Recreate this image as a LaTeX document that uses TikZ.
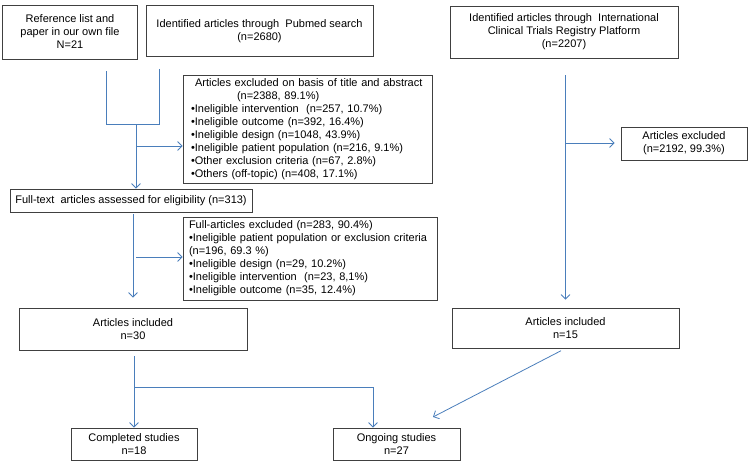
\documentclass[tikz,border=0pt]{standalone}
\usepackage{fontspec}
\setmainfont{Liberation Sans}
\usepackage{tikz}
\usetikzlibrary{arrows.meta,positioning,calc}
\hyphenpenalty=10000
\definecolor{FlowBlue}{RGB}{74,126,187}
\definecolor{FrameGray}{RGB}{64,64,64}
\tikzset{
  box/.style={draw=FrameGray, line width=0.8pt, align=center, inner sep=4pt, font=\fontsize{11}{13}\selectfont},
  listbox/.style={draw=FrameGray, line width=0.8pt, align=left, inner xsep=8pt, inner ysep=2pt, font=\fontsize{11}{13}\selectfont},
  arr/.style={-{Straight Barb[length=4.5pt,width=9pt]}, line width=0.8pt, draw=FlowBlue},
  ln/.style={line width=0.8pt, draw=FlowBlue}
}

\begin{document}
\begin{tikzpicture}[x=1pt,y=-1pt]
\useasboundingbox (0,0) rectangle (753,464);
% sources
\node[box, minimum width=135pt, minimum height=54pt] (ref) at (70,32) {Reference list and\\paper in our own file\\N=21};
\node[box, minimum width=227pt, minimum height=51pt] (pub) at (259.5,31) {Identified articles through\ \ Pubmed search\\(n=2680)};
\node[box, minimum width=228pt, minimum height=52pt] (ictrp) at (564,32) {Identified articles through\ \ International\\Clinical Trials Registry Platform\\(n=2207)};
% screening
\node[listbox, text width=233pt, minimum height=108pt] (exA) at (307.5,129) {\hspace*{4pt}Articles excluded on basis of title and abstract\\
\hspace*{46pt}(n=2388, 89.1\%)\\
•Ineligible intervention\ \ (n=257, 10.7\%)\\
•Ineligible outcome (n=392, 16.4\%)\\
•Ineligible design (n=1048, 43.9\%)\\
•Ineligible patient population (n=216, 9.1\%)\\
•Other exclusion criteria (n=67, 2.8\%)\\
•Others (off-topic) (n=408, 17.1\%)};
\node[box, minimum width=242pt, minimum height=23pt] (full) at (131,200.5) {Full-text\ \ articles assessed for eligibility (n=313)};
\node[listbox, inner xsep=6pt, text width=242pt, minimum height=83pt] (exB) at (310,258.5) {Full-articles excluded (n=283, 90.4\%)\\
•Ineligible patient population or exclusion criteria\\
(n=196, 69.3 \%)\\
•Ineligible design (n=29, 10.2\%)\\
•Ineligible intervention\ \ (n=23, 8,1\%)\\
•Ineligible outcome (n=35, 12.4\%)};
\node[box, minimum width=126pt, minimum height=33pt] (exR) at (684,143.5) {Articles excluded\\(n=2192, 99.3\%)};
% included
\node[box, minimum width=228pt, minimum height=42pt] (inclL) at (133,329) {Articles included\\n=30};
\node[box, minimum width=227pt, minimum height=40pt] (inclR) at (565.5,328) {Articles included\\n=15};
\node[box, minimum width=126pt, minimum height=32pt] (done) at (134,444) {Completed studies\\n=18};
\node[box, minimum width=127pt, minimum height=32pt] (ongo) at (396.5,444) {Ongoing studies\\n=27};
% junctions
\coordinate (j1) at (136,124);
\coordinate (b1) at (136,146);
\coordinate (b2) at (136,257);
\coordinate (b3) at (566,143);
\coordinate (b4) at (135,387);
\coordinate (od) at (433,417);
% connectors
\draw[ln] ([xshift=36pt,yshift=-12pt]ref.south) |- (j1);
\draw[ln] ([xshift=-100.5pt,yshift=-12pt]pub.south) |- (j1);
\draw[arr] (j1) -- (j1 |- full.north);
\draw[arr] (b1) -- (b1 -| exA.west);
\draw[arr, shorten <=2pt, shorten >=10pt] (full.south -| inclL.north) -- (inclL.north);
\draw[arr] (b2) -- (b2 -| exB.west);
\draw[arr, shorten <=17pt, shorten >=8pt] (ictrp.south -| inclR.north) -- (inclR.north);
\draw[arr, shorten >=6pt] (b3) -- (b3 -| exR.west);
\draw[arr, shorten <=6pt] (inclL.south -| done.north) -- (done.north);
\draw[arr] (b4) -| ([xshift=-23.5pt]ongo.north);
\draw[arr, shorten <=5pt] (inclR.south) -- (od);
\end{tikzpicture}
\end{document}
